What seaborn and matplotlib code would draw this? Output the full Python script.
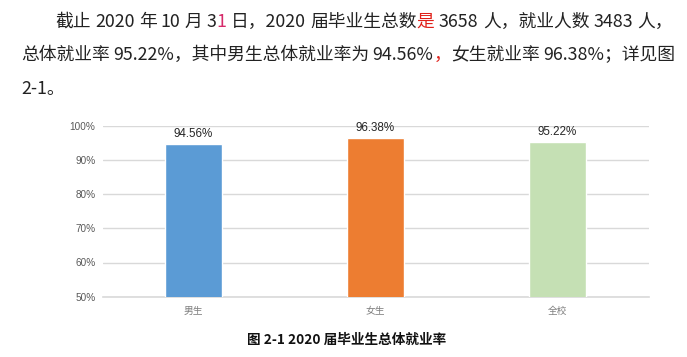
import matplotlib
matplotlib.use('Agg')
import matplotlib.pyplot as plt
import seaborn as sns
import pandas as pd

# chart data
categories = ['男生', '女生', '全校']
rates = [94.56, 96.38, 95.22]
bar_colors = ['#5B9BD5', '#ED7D31', '#C5E0B4']
yticks = [50, 60, 70, 80, 90, 100]

# paragraph above the chart, split where the colour changes
line1 = [('截止 2020 年 10 月 3', '#222222'), ('1', '#d62a6a'), (' 日，2020 届毕业生总数', '#222222'),
         ('是', '#e0201a'), (' 3658 人，就业人数 3483 人，', '#222222')]
line2 = [('总体就业率 95.22%，其中男生总体就业率为 94.56%', '#222222'), ('，', '#e0201a'),
         ('女生就业率 96.38%；详见图', '#222222')]
line3 = [('2-1。', '#222222')]
caption = '图 2-1 2020 届毕业生总体就业率'

sns.set_style('white')
plt.rcParams['font.family'] = ['Noto Sans CJK SC', 'DejaVu Sans']

W, H = 687, 357
fig = plt.figure(figsize=(W / 100, H / 100), dpi=100)
ax = fig.add_axes([102.5 / W, 1 - 296.7 / H, (648.5 - 102.5) / W, (296.7 - 125.7) / H])

df = pd.DataFrame({'cat': categories, 'rate': rates})
sns.barplot(data=df, x='cat', y='rate', hue='cat', palette=bar_colors, legend=False,
            width=0.31, saturation=1, ax=ax, zorder=3)

ax.set_ylim(50, 100)
ax.set_yticks(yticks)
ax.set_yticklabels([f'{t}%' for t in yticks], fontsize=7.2, color='#595959', family='Liberation Sans')
ax.yaxis.grid(True, color='#d9d9d9', lw=1, zorder=0)
ax.set_axisbelow(True)
for s in ['top', 'right', 'left']:
    ax.spines[s].set_visible(False)
ax.spines['bottom'].set_color('#d9d9d9')
ax.spines['bottom'].set_linewidth(1.2)
ax.tick_params(axis='y', length=0, pad=5)
ax.tick_params(axis='x', length=0, pad=7, labelsize=7, labelcolor='#7f7f7f')
ax.set_xlabel('')
ax.set_ylabel('')

for c in ax.containers:
    ax.bar_label(c, labels=[f'{v:.2f}%' for v in c.datavalues], padding=3,
                 fontsize=8.4, color='#262626', family='Liberation Sans')

r = fig.canvas.get_renderer()
FS = 12.8


def text_w(s):
    t = fig.text(0, 0, s, fontsize=FS)
    w = t.get_window_extent(r).width
    t.remove()
    return w


def draw_line(segments, x0, y, x1=None):
    # split into words so the spaces can be stretched (justified like the document)
    words = []
    for s, col in segments:
        parts = s.split(' ')
        for i, p in enumerate(parts):
            words.append((p, col, i > 0))
    sw = text_w('a a') - text_w('aa')
    widths = [text_w(p) if p else 0 for p, _, _ in words]
    nsp = sum(1 for _, _, sp in words if sp)
    gap = sw
    if x1 is not None and nsp:
        gap = sw + (x1 - x0 - sum(widths) - nsp * sw) / nsp
    x = x0
    for (p, col, sp), w in zip(words, widths):
        if sp:
            x += gap
        if p:
            fig.text(x / W, 1 - y / H, p, color=col, fontsize=FS, ha='left', va='center')
        x += w


draw_line(line1, 55, 22, 673)
draw_line(line2, 21, 55, 675)
draw_line(line3, 21, 89)

fig.text(347 / W, 1 - 340 / H, caption, fontsize=9.8, fontweight='bold', ha='center', va='center',
         color='#111111')

fig.savefig('out.png', dpi=100)
